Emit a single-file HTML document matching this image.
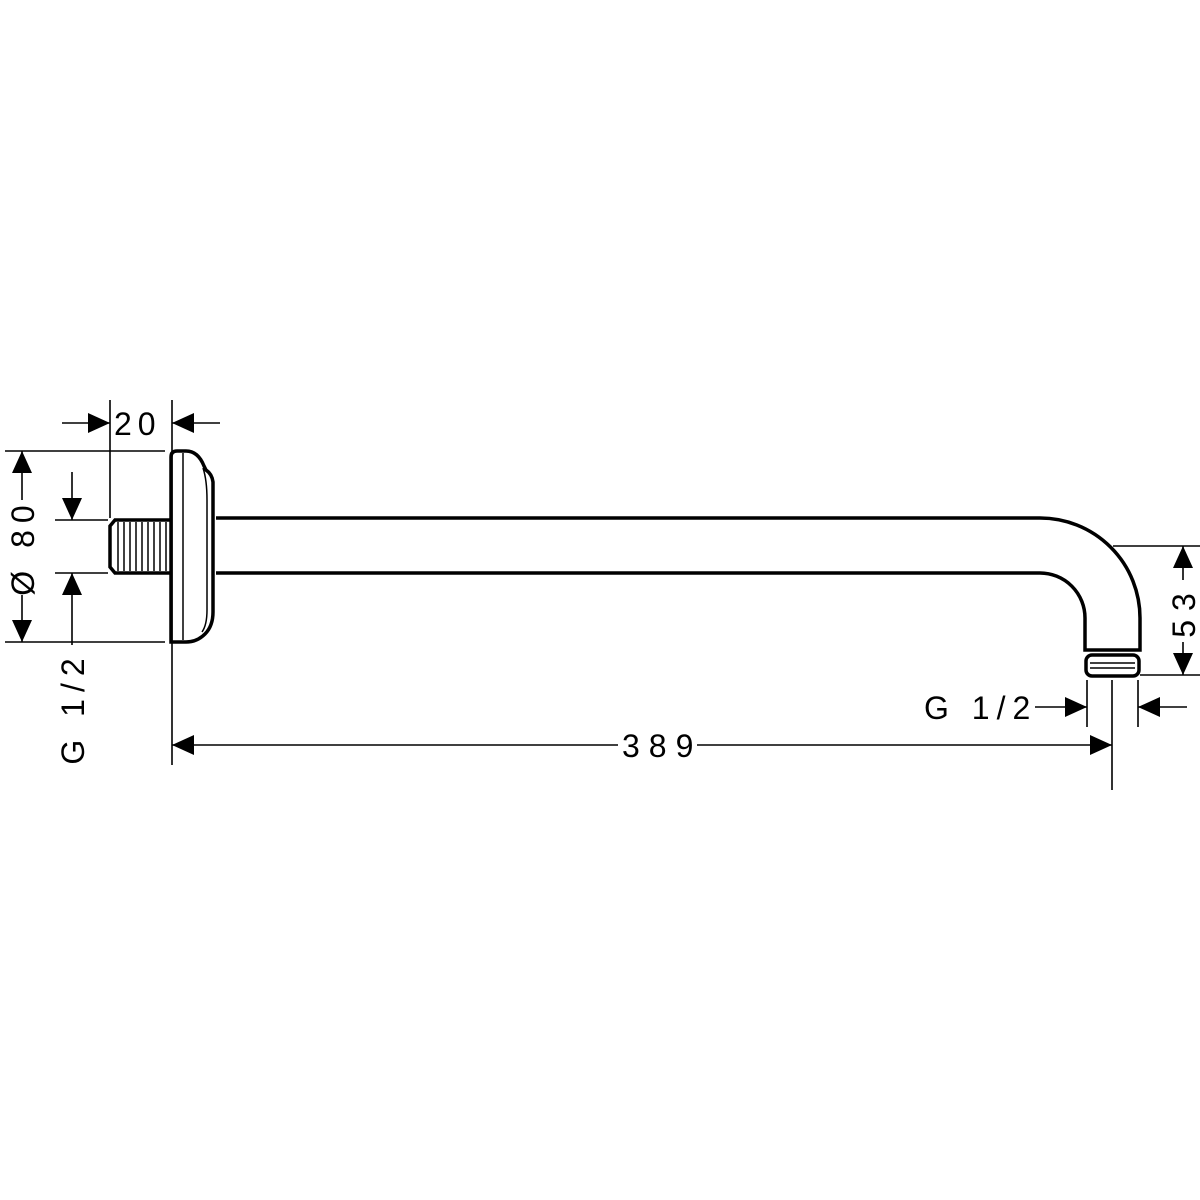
<!DOCTYPE html>
<html><head><meta charset="utf-8"><style>
html,body{margin:0;padding:0;background:#fff}
svg{display:block}
text{font-family:"Liberation Sans",sans-serif;font-size:32px;fill:#000}
</style></head><body>
<svg width="1200" height="1200" viewBox="0 0 1200 1200" xmlns="http://www.w3.org/2000/svg">
<defs>
<marker id="a" viewBox="0 0 22 20" refX="22" refY="10" markerWidth="22" markerHeight="20" markerUnits="userSpaceOnUse" orient="auto"><path d="M0,0 L22,10 L0,20 Z" fill="#000"/></marker>
</defs>
<g fill="none" stroke="#000">
<g stroke-width="3.5">
<path d="M216,518 H1040 A100,100 0 0 1 1140,618 V650 H1085 V618 A45,45 0 0 0 1040,573 H216"/>
<rect x="1086" y="655" width="53" height="21" rx="6"/>
<path d="M171,642 V457 Q171,451 177,451 H186 Q198,451 204,466 L206,470 Q212,474 213,482 V612 Q213,626 205,634 Q197,642 186,642 Z"/>
<path d="M170,520 H115 L110,526 V567 L115,573 H170"/>
</g>
<g stroke-width="1.5">
<line x1="183" y1="453" x2="183" y2="640"/>
<path d="M203,468 Q207,480 207,500 V610 Q207,625 202,632"/>
<line x1="1090" y1="663" x2="1135" y2="663"/>
<line x1="1090" y1="668" x2="1135" y2="668"/>
<path d="M118,522V571M124,522V571M130,522V571M136,522V571M142,522V571M148,522V571M154,522V571M160,522V571M166,522V571"/>
</g>
<g stroke-width="1.6">
<line x1="110" y1="400" x2="110" y2="518"/>
<line x1="172" y1="400" x2="172" y2="765"/>
<line x1="62" y1="423" x2="110" y2="423" marker-end="url(#a)"/>
<line x1="220" y1="423" x2="172" y2="423" marker-end="url(#a)"/>
<line x1="5" y1="451" x2="165" y2="451"/>
<line x1="5" y1="642" x2="165" y2="642"/>
<line x1="22" y1="500" x2="22" y2="451" marker-end="url(#a)"/>
<line x1="22" y1="595" x2="22" y2="642" marker-end="url(#a)"/>
<line x1="55" y1="520" x2="108" y2="520"/>
<line x1="55" y1="573" x2="108" y2="573"/>
<line x1="72" y1="472" x2="72" y2="520" marker-end="url(#a)"/>
<line x1="72" y1="645" x2="72" y2="573" marker-end="url(#a)"/>
<line x1="618" y1="745" x2="172" y2="745" marker-end="url(#a)"/>
<line x1="697" y1="745" x2="1112" y2="745" marker-end="url(#a)"/>
<line x1="1112" y1="680" x2="1112" y2="790"/>
<line x1="1087" y1="680" x2="1087" y2="727"/>
<line x1="1138" y1="680" x2="1138" y2="727"/>
<line x1="1035" y1="707" x2="1087" y2="707" marker-end="url(#a)"/>
<line x1="1187" y1="707" x2="1138" y2="707" marker-end="url(#a)"/>
<line x1="1113" y1="546" x2="1200" y2="546"/>
<line x1="1140" y1="675" x2="1200" y2="675"/>
<line x1="1183" y1="580" x2="1183" y2="546" marker-end="url(#a)"/>
<line x1="1183" y1="642" x2="1183" y2="675" marker-end="url(#a)"/>
</g>
</g>
<text x="114" y="435" letter-spacing="6">20</text>
<text x="622" y="757" letter-spacing="9">389</text>
<text x="924" y="719" letter-spacing="7">G 1/2</text>
<text transform="translate(34,547) rotate(-90)" text-anchor="middle" letter-spacing="7">Ø 80</text>
<text transform="translate(84,708) rotate(-90)" text-anchor="middle" letter-spacing="7">G 1/2</text>
<text transform="translate(1195,611) rotate(-90)" text-anchor="middle" letter-spacing="9">53</text>
</svg>
</body></html>
